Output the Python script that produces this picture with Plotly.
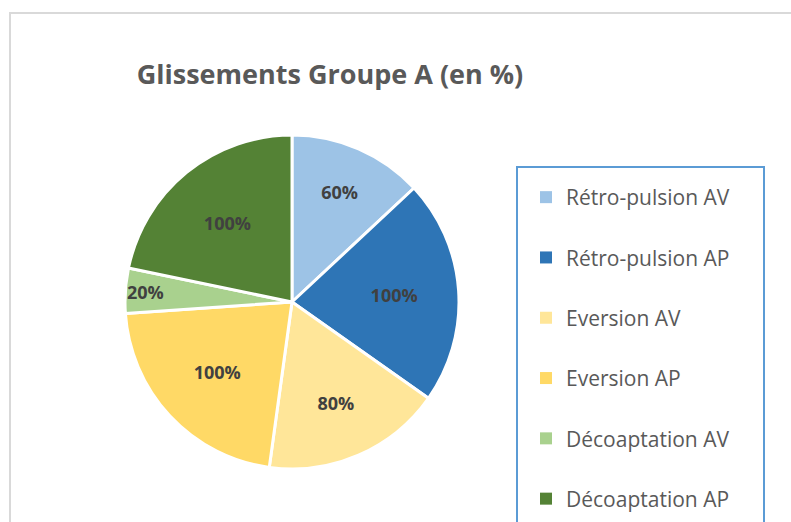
"""Pie chart: Glissements Groupe A (en %)."""

import plotly.graph_objects as go

categories = [
    "Rétro-pulsion AV",
    "Rétro-pulsion AP",
    "Eversion AV",
    "Eversion AP",
    "Décoaptation AV",
    "Décoaptation AP",
]
values = [60, 100, 80, 100, 20, 100]
colors = ["#9DC3E6", "#2E75B6", "#FFE699", "#FFD966", "#A9D18E", "#548235"]

W, H = 791, 522
FONT = "Open Sans"


def px_x(x):
    return x / W


def px_y(y):
    return 1 - y / H


fig = go.Figure()

fig.add_trace(
    go.Pie(
        labels=categories,
        values=values,
        text=[f"{v}%" for v in values],
        textinfo="text",
        textposition="inside",
        insidetextorientation="horizontal",
        textfont=dict(family=FONT, size=18, color="#404040", weight="bold"),
        marker=dict(colors=colors, line=dict(color="white", width=3)),
        sort=False,
        direction="clockwise",
        rotation=0,
        domain=dict(x=[px_x(125), px_x(459)], y=[px_y(469), px_y(135)]),
        showlegend=False,
    )
)

# legend entries, one group each so the spacing can be set
for name, c in zip(categories, colors):
    fig.add_trace(
        go.Scatter(
            x=[None], y=[None], mode="markers", name=name, legendgroup=name,
            marker=dict(symbol="square", size=9, color=c),
        )
    )

fig.update_xaxes(visible=False)
fig.update_yaxes(visible=False)

# outer chart frame and legend box (both run off the bottom/right edge)
fig.add_shape(type="rect", xref="paper", yref="paper",
              x0=px_x(10), y0=px_y(560), x1=px_x(830), y1=px_y(13),
              line=dict(color="#D9D9D9", width=2), layer="below")
fig.add_shape(type="rect", xref="paper", yref="paper",
              x0=px_x(517), y0=px_y(560), x1=px_x(764), y1=px_y(167),
              line=dict(color="#5B9BD5", width=2))

fig.update_layout(
    width=W,
    height=H,
    margin=dict(l=0, r=0, t=0, b=0),
    paper_bgcolor="white",
    plot_bgcolor="white",
    title=dict(
        text="<b>Glissements Groupe A (en %)</b>",
        x=px_x(330), xanchor="center",
        y=px_y(75), yanchor="middle",
        font=dict(family=FONT, size=27, color="#595959"),
    ),
    legend=dict(
        x=px_x(526), y=px_y(177), xanchor="left", yanchor="top",
        font=dict(family=FONT, size=21, color="#595959"),
        tracegroupgap=30,
        itemsizing="constant",
        bgcolor="rgba(0,0,0,0)",
    ),
    uniformtext=dict(minsize=18, mode="show"),
)

# drop the default body margin so the figure fills the window exactly
fig.write_html(
    "out.html",
    config={"displayModeBar": False},
    post_script="document.body.style.margin='0';document.body.style.overflow='hidden';",
)
